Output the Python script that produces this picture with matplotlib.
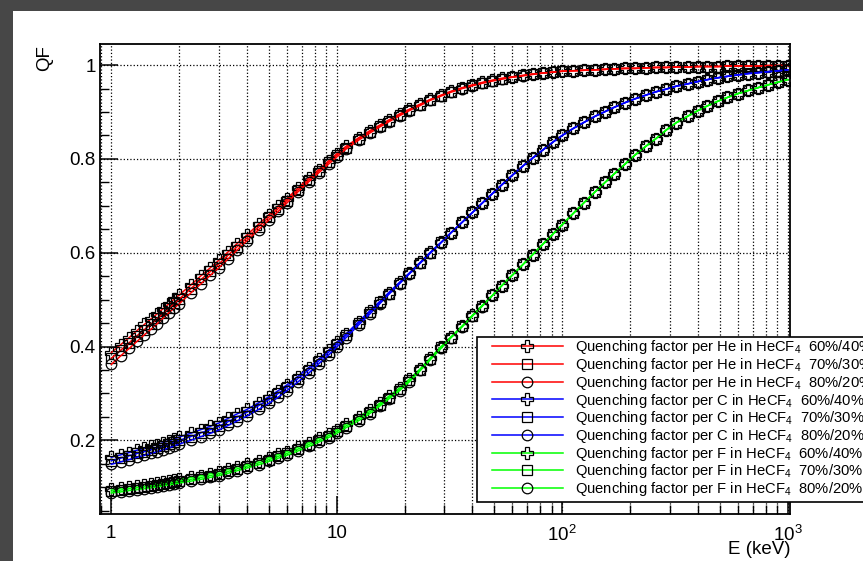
import matplotlib
matplotlib.use('Agg')
import matplotlib.pyplot as plt
from matplotlib.patches import Rectangle
from matplotlib.ticker import FixedLocator, NullFormatter, LogLocator, MultipleLocator

plt.rcParams['font.family'] = ['Liberation Sans', 'DejaVu Sans']
plt.rcParams['mathtext.fontset'] = 'custom'
plt.rcParams['mathtext.rm'] = 'Liberation Sans'
plt.rcParams['mathtext.it'] = 'Liberation Sans:italic'
plt.rcParams['mathtext.bf'] = 'Liberation Sans:bold'

# ---------------- data ----------------
energy_keV = [1.0, 1.1, 1.2, 1.3, 1.4, 1.5, 1.6, 1.7, 1.8, 1.9, 2.0,
              2.25, 2.5, 2.75, 3.0,
              3.3, 3.6, 4.0, 4.5, 5.0, 5.5, 6.0, 6.7, 7.5, 8.3, 9.2,
              10, 11, 12.5, 14, 15.5, 17, 19, 21, 23.5, 26, 29, 32, 36, 40, 44, 49, 54, 60, 67, 74, 82, 91,
              100, 112, 125, 140, 155, 170, 190, 210, 235, 260, 290, 320, 360, 400, 440, 490, 540, 600, 670, 740, 820, 910,
              1000]

qf_he_60 = [0.387, 0.404, 0.419, 0.434, 0.447, 0.459, 0.470, 0.481, 0.491, 0.501, 0.510,
            0.531, 0.551, 0.568, 0.584,
            0.602, 0.619, 0.638, 0.661, 0.681, 0.699, 0.715, 0.737, 0.759, 0.777, 0.796,
            0.811, 0.827, 0.845, 0.860, 0.872, 0.883, 0.896, 0.906, 0.917, 0.927, 0.936, 0.944, 0.952, 0.958, 0.963, 0.968, 0.972, 0.975, 0.978, 0.981, 0.983, 0.985,
            0.987, 0.988, 0.989, 0.990, 0.991, 0.992, 0.993, 0.993, 0.994, 0.995, 0.995, 0.996, 0.996, 0.997, 0.997, 0.997, 0.998, 0.998, 0.998, 0.998, 0.999, 0.999,
            0.999]
qf_he_70 = [0.375, 0.392, 0.408, 0.423, 0.436, 0.448, 0.460, 0.471, 0.482, 0.492, 0.501,
            0.523, 0.543, 0.560, 0.576,
            0.595, 0.612, 0.632, 0.655, 0.676, 0.694, 0.711, 0.733, 0.755, 0.774, 0.793,
            0.808, 0.824, 0.843, 0.858, 0.870, 0.881, 0.894, 0.905, 0.916, 0.926, 0.935, 0.943, 0.951, 0.957, 0.962, 0.967, 0.971, 0.975, 0.978, 0.981, 0.983, 0.985,
            0.987, 0.988, 0.989, 0.990, 0.991, 0.992, 0.993, 0.993, 0.994, 0.995, 0.995, 0.996, 0.996, 0.997, 0.997, 0.997, 0.998, 0.998, 0.998, 0.998, 0.999, 0.999,
            0.999]
qf_he_80 = [0.362, 0.380, 0.396, 0.411, 0.425, 0.437, 0.449, 0.461, 0.472, 0.482, 0.491,
            0.514, 0.534, 0.552, 0.568,
            0.587, 0.605, 0.626, 0.649, 0.670, 0.688, 0.706, 0.729, 0.751, 0.770, 0.789,
            0.804, 0.821, 0.840, 0.855, 0.868, 0.879, 0.892, 0.903, 0.914, 0.925, 0.934, 0.942, 0.950, 0.956, 0.961, 0.966, 0.970, 0.974, 0.977, 0.980, 0.983, 0.985,
            0.987, 0.988, 0.989, 0.990, 0.991, 0.992, 0.993, 0.993, 0.994, 0.995, 0.995, 0.996, 0.996, 0.997, 0.997, 0.997, 0.998, 0.998, 0.998, 0.998, 0.999, 0.999,
            0.999]

qf_c_60 = [0.164, 0.169, 0.174, 0.179, 0.183, 0.187, 0.191, 0.195, 0.199, 0.203, 0.207,
           0.215, 0.223, 0.230, 0.237,
           0.247, 0.256, 0.266, 0.280, 0.293, 0.306, 0.318, 0.336, 0.355, 0.373, 0.392,
           0.409, 0.427, 0.453, 0.476, 0.496, 0.515, 0.537, 0.557, 0.580, 0.601, 0.622, 0.642, 0.665, 0.686, 0.705, 0.726, 0.745, 0.765, 0.785, 0.802, 0.819, 0.836,
           0.850, 0.865, 0.878, 0.891, 0.901, 0.910, 0.920, 0.928, 0.936, 0.943, 0.949, 0.955, 0.960, 0.965, 0.969, 0.973, 0.976, 0.979, 0.982, 0.984, 0.986, 0.988,
           0.990]
qf_c_70 = [0.157, 0.162, 0.167, 0.172, 0.176, 0.180, 0.184, 0.188, 0.192, 0.196, 0.200,
           0.208, 0.216, 0.223, 0.230,
           0.240, 0.249, 0.260, 0.274, 0.287, 0.300, 0.313, 0.331, 0.350, 0.369, 0.388,
           0.405, 0.424, 0.450, 0.473, 0.494, 0.513, 0.536, 0.556, 0.579, 0.600, 0.622, 0.642, 0.665, 0.686, 0.705, 0.726, 0.745, 0.765, 0.785, 0.802, 0.819, 0.836,
           0.850, 0.865, 0.878, 0.891, 0.901, 0.910, 0.920, 0.928, 0.936, 0.943, 0.949, 0.955, 0.960, 0.965, 0.969, 0.973, 0.976, 0.979, 0.982, 0.984, 0.986, 0.988,
           0.990]
qf_c_80 = [0.149, 0.154, 0.159, 0.164, 0.168, 0.172, 0.176, 0.180, 0.184, 0.188, 0.192,
           0.200, 0.208, 0.215, 0.222,
           0.232, 0.241, 0.252, 0.266, 0.279, 0.292, 0.306, 0.324, 0.343, 0.363, 0.382,
           0.399, 0.419, 0.446, 0.469, 0.491, 0.511, 0.534, 0.555, 0.578, 0.599, 0.621, 0.642, 0.665, 0.686, 0.705, 0.726, 0.745, 0.765, 0.785, 0.802, 0.819, 0.836,
           0.850, 0.865, 0.878, 0.891, 0.901, 0.910, 0.920, 0.928, 0.936, 0.943, 0.949, 0.955, 0.960, 0.965, 0.969, 0.973, 0.976, 0.979, 0.982, 0.984, 0.986, 0.988,
           0.990]

qf_f_60 = [0.096, 0.098, 0.101, 0.103, 0.105, 0.107, 0.109, 0.111, 0.113, 0.115, 0.117,
           0.121, 0.125, 0.129, 0.133,
           0.138, 0.143, 0.149, 0.156, 0.163, 0.170, 0.176, 0.185, 0.195, 0.204, 0.214,
           0.223, 0.235, 0.250, 0.265, 0.279, 0.294, 0.312, 0.331, 0.353, 0.376, 0.400, 0.420, 0.444, 0.467, 0.487, 0.509, 0.530, 0.552, 0.575, 0.596, 0.618, 0.640,
           0.660, 0.684, 0.707, 0.730, 0.750, 0.768, 0.789, 0.808, 0.827, 0.843, 0.862, 0.877, 0.891, 0.903, 0.913, 0.923, 0.931, 0.939, 0.946, 0.952, 0.958, 0.964,
           0.969]
qf_f_70 = [0.092, 0.094, 0.097, 0.099, 0.101, 0.103, 0.105, 0.107, 0.109, 0.111, 0.113,
           0.117, 0.121, 0.125, 0.129,
           0.134, 0.139, 0.145, 0.152, 0.159, 0.166, 0.172, 0.181, 0.191, 0.200, 0.210,
           0.219, 0.231, 0.246, 0.261, 0.276, 0.291, 0.309, 0.328, 0.351, 0.374, 0.398, 0.419, 0.443, 0.466, 0.486, 0.509, 0.530, 0.552, 0.575, 0.596, 0.618, 0.640,
           0.660, 0.684, 0.707, 0.730, 0.750, 0.768, 0.789, 0.808, 0.827, 0.843, 0.862, 0.877, 0.891, 0.903, 0.913, 0.923, 0.931, 0.939, 0.946, 0.952, 0.958, 0.964,
           0.969]
qf_f_80 = [0.088, 0.090, 0.093, 0.095, 0.097, 0.099, 0.101, 0.103, 0.105, 0.107, 0.109,
           0.113, 0.117, 0.121, 0.125,
           0.130, 0.135, 0.141, 0.148, 0.155, 0.162, 0.168, 0.177, 0.187, 0.196, 0.206,
           0.215, 0.227, 0.242, 0.257, 0.273, 0.288, 0.306, 0.325, 0.349, 0.372, 0.396, 0.418, 0.442, 0.465, 0.485, 0.509, 0.530, 0.552, 0.575, 0.596, 0.618, 0.640,
           0.660, 0.684, 0.707, 0.730, 0.750, 0.768, 0.789, 0.808, 0.827, 0.843, 0.862, 0.877, 0.891, 0.903, 0.913, 0.923, 0.931, 0.939, 0.946, 0.952, 0.958, 0.964,
           0.969]

species = ['He', 'C', 'F']
mixtures = ['60%/40%', '70%/30%', '80%/20%']
series = [[qf_he_60, qf_he_70, qf_he_80],
          [qf_c_60, qf_c_70, qf_c_80],
          [qf_f_60, qf_f_70, qf_f_80]]

x_ticks = [1, 10, 100, 1000]
x_ticklabels = ['1', '10', '$10^{2}$', '$10^{3}$']
y_ticks = [0.2, 0.4, 0.6, 0.8, 1.0]
y_ticklabels = ['0.2', '0.4', '0.6', '0.8', '1']

# ---------------- styles ----------------
line_colors = ['#ff0000', '#0000ff', '#00ff00']
markers = ['P', 's', 'o']
marker_sizes = [8.0, 7.0, 7.6]

W, H = 863, 561
def fx(px):
    return px / W
def fy(py):
    return 1 - py / H

fig = plt.figure(figsize=(W / 100, H / 100), dpi=100)
fig.patch.set_facecolor('#474747')
fig.add_artist(Rectangle((fx(13), 0), 1 - fx(13), fy(11), transform=fig.transFigure,
                         facecolor='white', edgecolor='none', zorder=-1))

ax = fig.add_axes([fx(100), fy(514), fx(790) - fx(100), fy(44) - fy(514)])
ax.set_xscale('log')
ax.set_xlim(0.891, 1024)
ax.set_ylim(0.043, 1.045)

handles, labels = [], []
for si, sp in enumerate(species):
    for mi, mix in enumerate(mixtures):
        ln, = ax.plot(energy_keV, series[si][mi], color=line_colors[si], lw=1.1,
                      marker=markers[mi], ms=marker_sizes[mi], mfc='none',
                      mec='black', mew=0.9, zorder=3)
        handles.append(ln)
        labels.append('Quenching factor per %s in HeCF$_4$  %s' % (sp, mix))

ax.xaxis.set_major_locator(FixedLocator(x_ticks))
ax.set_xticklabels(x_ticklabels)
ax.xaxis.set_minor_locator(LogLocator(base=10, subs=range(2, 10)))
ax.xaxis.set_minor_formatter(NullFormatter())
ax.yaxis.set_major_locator(FixedLocator(y_ticks))
ax.set_yticklabels(y_ticklabels)
ax.yaxis.set_minor_locator(MultipleLocator(0.05))

ax.tick_params(which='major', direction='in', length=13, width=1.1, labelsize=13.5,
               top=False, right=False, colors='black')
ax.tick_params(which='minor', direction='in', length=6.5, width=1.0, top=False, right=False)
ax.tick_params(axis='x', which='major', pad=8)
ax.tick_params(axis='y', which='major', pad=3)

ax.grid(True, which='both', axis='x', ls=':', color='black', lw=0.9)
ax.grid(True, which='major', axis='y', ls=':', color='black', lw=0.9)
ax.set_axisbelow(True)
for sp_ in ax.spines.values():
    sp_.set_linewidth(1.3)

fig.text(fx(45), fy(58), 'QF', rotation=90, ha='center', va='center', fontsize=13.5)
fig.text(fx(790), fy(550), 'E (keV)', ha='right', va='center', fontsize=13.5)

# legend box
fig.add_artist(Rectangle((fx(477), fy(502)), 1, fy(337) - fy(502), transform=fig.transFigure,
                         facecolor='white', edgecolor='black', lw=1.2, zorder=4))
leg = fig.legend(handles, labels, loc='upper left', bbox_to_anchor=(fx(492), fy(338.5)),
                 bbox_transform=fig.transFigure, frameon=False, borderpad=0,
                 borderaxespad=0, handlelength=4.8, handletextpad=0.85,
                 labelspacing=-0.02, fontsize=10.6, numpoints=1)
leg.set_zorder(5)

fig.savefig('out.png', dpi=100, facecolor=fig.get_facecolor())
